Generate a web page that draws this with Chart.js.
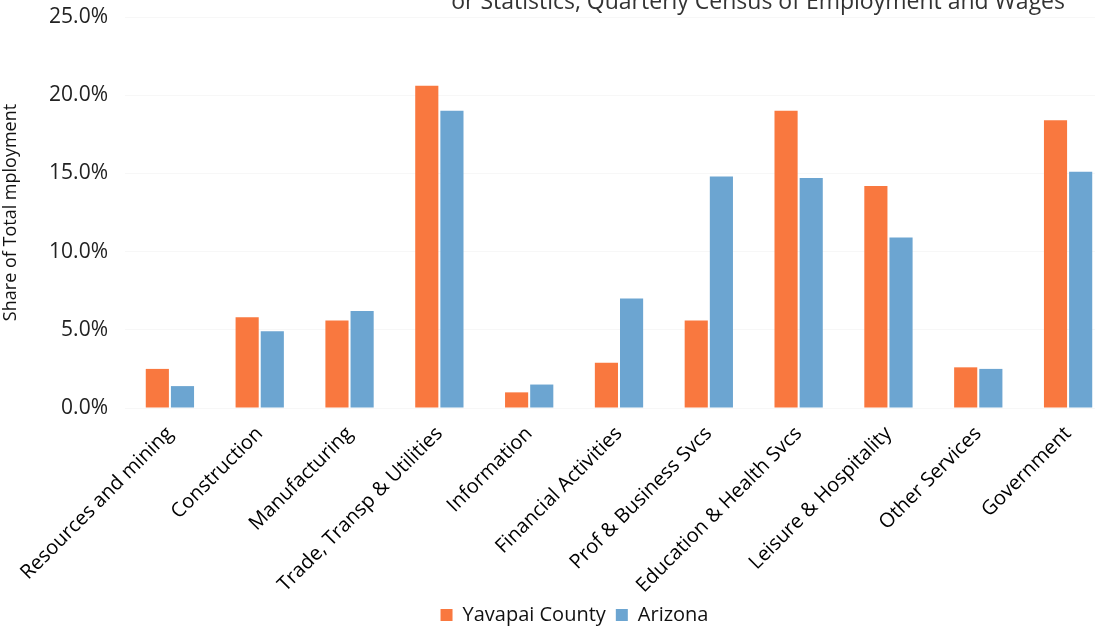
<!DOCTYPE html>
<html>
<head>
<meta charset="utf-8">
<title>Share of Total Employment by Industry</title>
<script src="https://cdn.jsdelivr.net/npm/chart.js@4"></script>
<style>
    html, body { margin: 0; padding: 0; background: #fff; overflow: hidden; }
    .chart-wrap { position: relative; width: 1120px; height: 629px; }
</style>
</head>
<body>
<div class="chart-wrap">
    <canvas id="industry-chart"></canvas>
</div>
<script>
// Data
const industries = [
    'Resources and mining', 'Construction', 'Manufacturing', 'Trade, Transp & Utilities',
    'Information', 'Financial Activities', 'Prof & Business Svcs', 'Education & Health Svcs',
    'Leisure & Hospitality', 'Other Services', 'Government'
];
const yavapaiShare = [2.5, 5.8, 5.6, 20.6, 1.0, 2.9, 5.6, 19.0, 14.2, 2.6, 18.4];
const arizonaShare = [1.4, 4.9, 6.2, 19.0, 1.5, 7.0, 14.8, 14.7, 10.9, 2.5, 15.1];
const yTicks = [0, 5, 10, 15, 20, 25];
const sourceNote = 'or Statistics, Quarterly Census of Employment and Wages';

const fontFamily = "'Open Sans', 'DejaVu Sans', sans-serif";

// Source line at the very top, partly cut off like the scan
const sourcePlugin = {
    id: 'sourceNote',
    afterDraw(chart) {
        const ctx = chart.ctx;
        ctx.save();
        ctx.font = '23px ' + fontFamily;
        ctx.fillStyle = '#333';
        ctx.textAlign = 'right';
        ctx.textBaseline = 'alphabetic';
        ctx.fillText(sourceNote, 1065, 9);
        ctx.restore();
    }
};

// Nudge the legend a bit right and down, like the original
const legendShift = {
    id: 'legendShift',
    afterLayout(chart) {
        const legend = chart.legend;
        if (!legend) return;
        const dy = 615 - (legend.top + legend.height / 2);
        legend.top += dy;
        legend.bottom += dy;
        legend.left += 18;
        legend.right += 18;
    }
};

const chart = new Chart(document.getElementById('industry-chart'), {
    type: 'bar',
    data: {
        labels: industries,
        datasets: [
            {
                label: 'Yavapai County',
                data: yavapaiShare,
                backgroundColor: '#f9783f',
                categoryPercentage: 0.56,
                barPercentage: 0.92
            },
            {
                label: 'Arizona',
                data: arizonaShare,
                backgroundColor: '#6ca5d1',
                categoryPercentage: 0.56,
                barPercentage: 0.92
            }
        ]
    },
    options: {
        responsive: true,
        maintainAspectRatio: false,
        animation: false,
        layout: {
            padding: { top: 17, right: 7, bottom: -6, left: 0 }
        },
        plugins: {
            tooltip: { enabled: false },
            legend: {
                position: 'bottom',
                labels: {
                    boxWidth: 12,
                    boxHeight: 12,
                    padding: 10,
                    color: '#111',
                    font: { family: fontFamily, size: 20 }
                }
            }
        },
        scales: {
            x: {
                grid: { display: false },
                border: { display: false },
                ticks: {
                    color: '#000',
                    maxRotation: 45,
                    minRotation: 45,
                    padding: 6,
                    font: { family: fontFamily, size: 20 }
                },
                afterFit(scale) {
                    scale.height = 187;
                }
            },
            y: {
                min: 0,
                max: 25,
                afterBuildTicks(scale) {
                    scale.ticks = yTicks.map(v => ({ value: v }));
                },
                grid: { color: '#f7f7f7', drawTicks: false },
                border: { display: false },
                ticks: {
                    color: '#222',
                    padding: 17,
                    font: { family: fontFamily, size: 21 },
                    callback: value => value.toFixed(1) + '%'
                },
                title: {
                    display: true,
                    text: 'Share of Total mployment',
                    color: '#111',
                    padding: { top: 0, bottom: 0 },
                    font: { family: fontFamily, size: 18 }
                },
                afterFit(scale) {
                    scale.width = 125;
                    scale.paddingTop = 0;
                    scale.paddingBottom = 0;
                }
            }
        }
    },
    plugins: [sourcePlugin, legendShift]
});
</script>
</body>
</html>
